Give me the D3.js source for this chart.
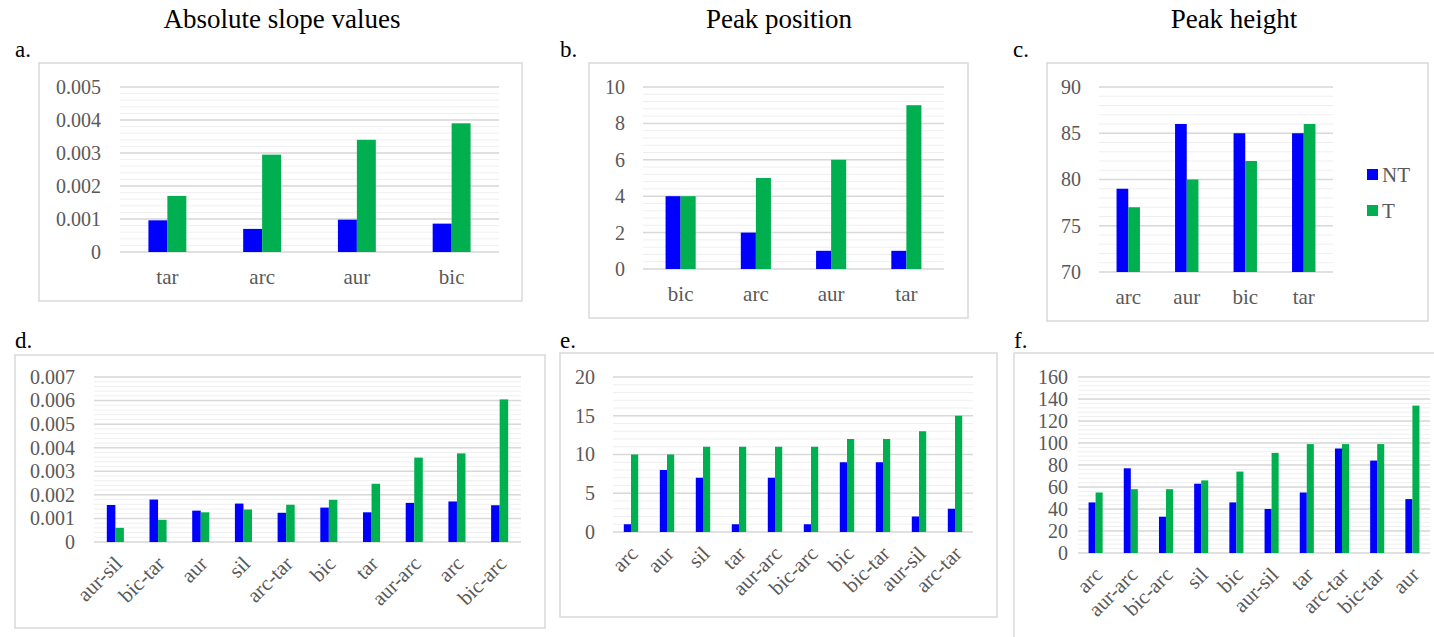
<!DOCTYPE html>
<html>
<head>
<meta charset="utf-8">
<script src="https://cdn.jsdelivr.net/npm/d3@7"></script>
<style>
  body { margin: 0; background: #fff; }
  text { font-family: "Liberation Serif", "Times New Roman", serif; }
</style>
</head>
<body>
<script>
// ---- data ----
const series = ["NT", "T"]

const catsA = ["tar", "arc", "aur", "bic"]
const ntA = [0.00096, 0.0007, 0.00098, 0.00086]
const tA = [0.0017, 0.00295, 0.0034, 0.0039]
const ticksA = [0, 0.001, 0.002, 0.003, 0.004, 0.005]

const catsB = ["bic", "arc", "aur", "tar"]
const ntB = [4, 2, 1, 1]
const tB = [4, 5, 6, 9]
const ticksB = [0, 2, 4, 6, 8, 10]

const catsC = ["arc", "aur", "bic", "tar"]
const ntC = [79, 86, 85, 85]
const tC = [77, 80, 82, 86]
const ticksC = [70, 75, 80, 85, 90]

const catsD = ["aur-sil", "bic-tar", "aur", "sil", "arc-tar", "bic", "tar", "aur-arc", "arc", "bic-arc"]
const ntD = [0.00157, 0.0018, 0.00133, 0.00163, 0.00124, 0.00146, 0.00126, 0.00166, 0.00172, 0.00156]
const tD = [0.0006, 0.00094, 0.00126, 0.00138, 0.00158, 0.00179, 0.00247, 0.00358, 0.00376, 0.00605]
const ticksD = [0, 0.001, 0.002, 0.003, 0.004, 0.005, 0.006, 0.007]

const catsE = ["arc", "aur", "sil", "tar", "aur-arc", "bic-arc", "bic", "bic-tar", "aur-sil", "arc-tar"]
const ntE = [1, 8, 7, 1, 7, 1, 9, 9, 2, 3]
const tE = [10, 10, 11, 11, 11, 11, 12, 12, 13, 15]
const ticksE = [0, 5, 10, 15, 20]

const catsF = ["arc", "aur-arc", "bic-arc", "sil", "bic", "aur-sil", "tar", "arc-tar", "bic-tar", "aur"]
const ntF = [46, 77, 33, 63, 46, 40, 55, 95, 84, 49]
const tF = [55, 58, 58, 66, 74, 91, 99, 99, 99, 134]
const ticksF = [0, 20, 40, 60, 80, 100, 120, 140, 160]

const titles = ["Absolute slope values", "Peak position", "Peak height"]

// ---- layout ----
const W = 1434
const H = 637
const colors = { NT: "#0000FF", T: "#00B050" }
const slopeFmt = (d) => (d === 0 ? "0" : d3.format(".3f")(d))
const intFmt = d3.format("d")

const panels = [
  { label: "a.", lx: 15, ly: 57, frame: [39, 63, 522, 301], plot: [120, 87, 499, 252], cats: catsA, nt: ntA, t: tA, ticks: ticksA, fmt: slopeFmt, gap: 19, rotate: false },
  { label: "b.", lx: 560, ly: 57, frame: [589, 63, 968, 318], plot: [643, 87, 944, 269], cats: catsB, nt: ntB, t: tB, ticks: ticksB, fmt: intFmt, gap: 18, rotate: false },
  { label: "c.", lx: 1013, ly: 57, frame: [1047, 63, 1428, 321], plot: [1099, 87, 1333, 272], cats: catsC, nt: ntC, t: tC, ticks: ticksC, fmt: intFmt, gap: 18, rotate: false },
  { label: "d.", lx: 15, ly: 348, frame: [15, 355, 545, 628], plot: [94, 377, 521, 542], cats: catsD, nt: ntD, t: tD, ticks: ticksD, fmt: slopeFmt, gap: 19, rotate: true },
  { label: "e.", lx: 560, ly: 348, frame: [560, 353, 997, 617], plot: [613, 377, 973, 532], cats: catsE, nt: ntE, t: tE, ticks: ticksE, fmt: intFmt, gap: 18, rotate: true },
  { label: "f.", lx: 1014, ly: 348, frame: [1014, 353, 1450, 660], plot: [1078, 377, 1430, 553], cats: catsF, nt: ntF, t: tF, ticks: ticksF, fmt: intFmt, gap: 10, rotate: true },
]

const titleX = [282, 779, 1234]

const svg = d3.select("body").append("svg").attr("width", W).attr("height", H)

titles.forEach((t, i) => {
  svg
    .append("text")
    .attr("x", titleX[i])
    .attr("y", 28)
    .attr("text-anchor", "middle")
    .attr("font-size", 27)
    .attr("fill", "#000")
    .text(t)
})

const drawPanel = (p) => {
  const [fx0, fy0, fx1, fy1] = p.frame
  const [px0, py0, px1, py1] = p.plot

  svg
    .append("text")
    .attr("x", p.lx)
    .attr("y", p.ly)
    .attr("font-size", 23)
    .attr("fill", "#000")
    .text(p.label)

  svg
    .append("rect")
    .attr("x", fx0)
    .attr("y", fy0)
    .attr("width", fx1 - fx0)
    .attr("height", fy1 - fy0)
    .attr("fill", "#fff")
    .attr("stroke", "#D9D9D9")
    .attr("stroke-width", 1.5)

  const lo = p.ticks[0]
  const hi = p.ticks[p.ticks.length - 1]
  const y = d3.scaleLinear().domain([lo, hi]).range([py1, py0])

  // minor gridlines: 5 subdivisions between major ticks
  const step = (p.ticks[1] - p.ticks[0]) / 5
  const minor = d3.range(0, Math.round((hi - lo) / step) + 1).map((k) => lo + k * step)

  const g = svg.append("g")
  g.selectAll(".minor")
    .data(minor)
    .enter()
    .append("line")
    .attr("x1", px0)
    .attr("x2", px1)
    .attr("y1", (d) => y(d))
    .attr("y2", (d) => y(d))
    .attr("stroke", "#EFEFEF")
    .attr("stroke-width", 1)

  g.selectAll(".major")
    .data(p.ticks)
    .enter()
    .append("line")
    .attr("x1", px0)
    .attr("x2", px1)
    .attr("y1", (d) => y(d))
    .attr("y2", (d) => y(d))
    .attr("stroke", "#D9D9D9")
    .attr("stroke-width", 1.5)

  const yAxis = d3.axisLeft(y).tickValues(p.ticks).tickFormat(p.fmt).tickSize(0).tickPadding(p.gap)
  const ya = svg.append("g").attr("transform", `translate(${px0}, 0)`).call(yAxis)
  ya.select(".domain").remove()
  ya.selectAll("text").attr("font-size", 20).attr("fill", "#595959").attr("font-family", "Liberation Serif")

  const x0 = d3.scaleBand().domain(p.cats).range([px0, px1]).paddingInner(0.6).paddingOuter(0.3)
  const x1 = d3.scaleBand().domain(series).range([0, x0.bandwidth()])

  const rows = p.cats.map((c, i) => ({ cat: c, NT: p.nt[i], T: p.t[i] }))

  svg
    .append("g")
    .selectAll("g")
    .data(rows)
    .enter()
    .append("g")
    .attr("transform", (d) => `translate(${x0(d.cat)}, 0)`)
    .selectAll("rect")
    .data((d) => series.map((s) => ({ key: s, value: d[s] })))
    .enter()
    .append("rect")
    .attr("x", (d) => x1(d.key))
    .attr("y", (d) => y(d.value))
    .attr("width", x1.bandwidth())
    .attr("height", (d) => y(lo) - y(d.value))
    .attr("fill", (d) => colors[d.key])

  const xAxis = d3.axisBottom(x0).tickSize(0).tickPadding(17)
  const xa = svg.append("g").attr("transform", `translate(0, ${py1})`).call(xAxis)
  xa.select(".domain").remove()
  const labels = xa.selectAll("text").attr("font-size", 21).attr("fill", "#595959").attr("font-family", "Liberation Serif")

  if (p.rotate) {
    labels
      .attr("text-anchor", "end")
      .attr("y", 0)
      .attr("dy", 0)
      .attr("transform", "translate(8, 23) rotate(-45)")
  }
}

panels.forEach(drawPanel)

// legend for panel c
const legend = svg
  .append("g")
  .selectAll("g")
  .data(series)
  .enter()
  .append("g")
  .attr("transform", (d, i) => `translate(1367, ${169 + i * 36})`)

legend
  .append("rect")
  .attr("width", 11)
  .attr("height", 11)
  .attr("fill", (d) => colors[d])

legend
  .append("text")
  .attr("x", 15)
  .attr("y", 5.5)
  .attr("dy", "0.35em")
  .attr("font-size", 21)
  .attr("fill", "#595959")
  .text((d) => d)
</script>
</body>
</html>
